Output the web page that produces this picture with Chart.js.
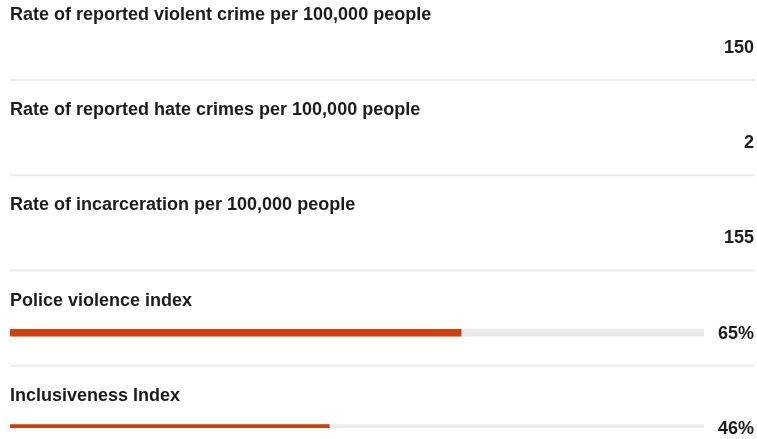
<!DOCTYPE html>
<html>
<head>
<meta charset="utf-8">
<script src="https://cdn.jsdelivr.net/npm/chart.js@4"></script>
<style>
  html, body { margin: 0; padding: 0; background: #fff; }
  .wrap { width: 757px; height: 439px; position: relative; }
</style>
</head>
<body>
<div class="wrap"><canvas id="bars"></canvas></div>
<script>
const titles = [
    "Rate of reported violent crime per 100,000 people",
    "Rate of reported hate crimes per 100,000 people",
    "Rate of incarceration per 100,000 people",
    "Police violence index",
    "Inclusiveness Index"
];
const values = [150, 2, 155, 65, 46];
const units = ["", "", "", "%", "%"];
// only the index rows get a bar
const barValues = [null, null, null, 65, 46];
const trackValues = [null, null, null, 100, 100];

const textColor = "#1c1c1c";
const labelFont = "bold 18px 'Liberation Sans', Arial, sans-serif";

// Row titles, numbers on the right and thin separators
const rowText = {
    id: "rowText",
    afterDatasetsDraw(chart) {
        const ctx = chart.ctx;
        const y = chart.scales.y;
        const area = chart.chartArea;
        ctx.save();
        ctx.fillStyle = textColor;
        ctx.font = labelFont;
        ctx.textBaseline = "middle";
        titles.forEach((t, i) => {
            const cy = y.getPixelForValue(i);
            ctx.textAlign = "left";
            ctx.fillText(t, area.left, cy - 32);
            ctx.textAlign = "right";
            ctx.fillText(values[i] + units[i], chart.width - 3, cy + 1);
            if (i < titles.length - 1) {
                ctx.fillStyle = "#ececec";
                ctx.fillRect(area.left, cy + 32, chart.width - area.left - 2, 2);
                ctx.fillStyle = textColor;
            }
        });
        ctx.restore();
    }
};

new Chart("bars", {
    type: "bar",
    data: {
        labels: titles,
        datasets: [
            {
                data: barValues,
                backgroundColor: "#d23f0e",
                barThickness: 7,
                borderWidth: 0,
                grouped: false,
                order: 0
            },
            {
                data: trackValues,
                backgroundColor: "#ebebeb",
                barThickness: 7,
                borderWidth: 0,
                grouped: false,
                order: 1
            }
        ]
    },
    options: {
        indexAxis: "y",
        responsive: true,
        maintainAspectRatio: false,
        animation: false,
        layout: {
            padding: { left: 10, right: 53, top: 47, bottom: 11 }
        },
        scales: {
            x: { min: 0, max: 100, display: false },
            y: { type: "category", offset: false, display: false }
        },
        plugins: {
            legend: { display: false },
            tooltip: { enabled: false }
        }
    },
    plugins: [rowText]
});
</script>
</body>
</html>
